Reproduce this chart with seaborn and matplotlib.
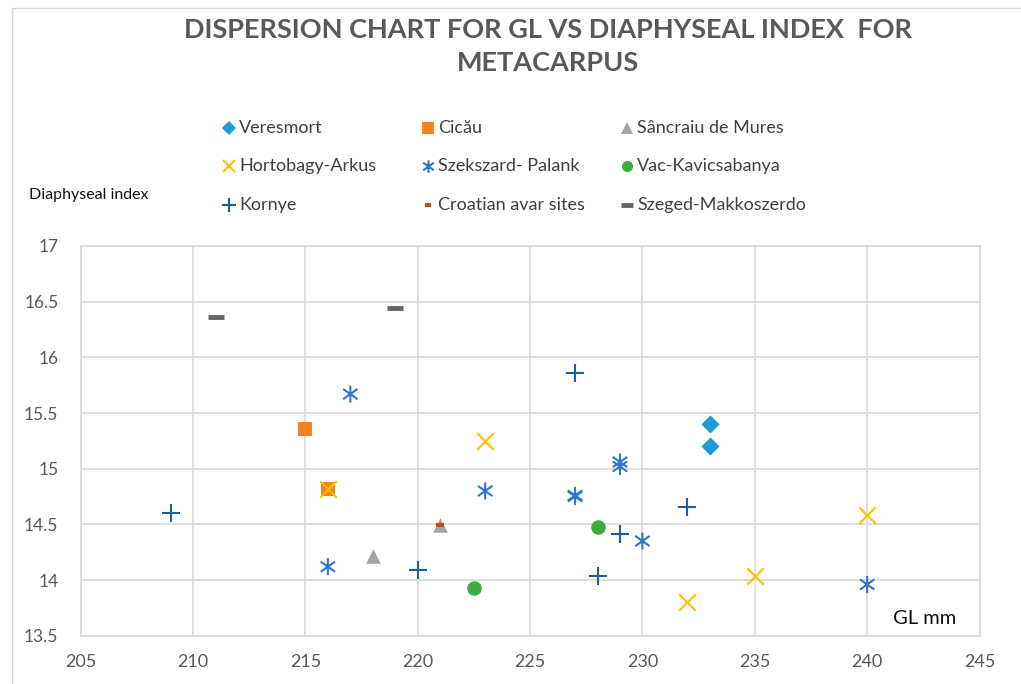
import matplotlib
matplotlib.use("Agg")
import matplotlib.pyplot as plt
import seaborn as sns
import numpy as np
import pandas as pd
from matplotlib.path import Path
from matplotlib.lines import Line2D

# ---- data ----
veresmort_x = [233, 233]
veresmort_y = [15.40, 15.20]
cicau_x = [215, 216]
cicau_y = [15.36, 14.82]
sancraiu_x = [221, 218]
sancraiu_y = [14.49, 14.22]
hortobagy_x = [223, 216, 240, 235, 232]
hortobagy_y = [15.25, 14.82, 14.58, 14.04, 13.80]
szekszard_x = [217, 229, 229, 223, 227, 227, 230, 216, 240]
szekszard_y = [15.67, 15.06, 15.02, 14.80, 14.76, 14.75, 14.35, 14.12, 13.96]
vac_x = [228, 222.5]
vac_y = [14.48, 13.93]
kornye_x = [227, 232, 209, 229, 220, 228]
kornye_y = [15.86, 14.66, 14.60, 14.41, 14.09, 14.04]
croatian_x = [221]
croatian_y = [14.49]
szeged_x = [211, 219]
szeged_y = [16.36, 16.44]

x_ticks = [205, 210, 215, 220, 225, 230, 235, 240, 245]
y_ticks = [13.5, 14, 14.5, 15, 15.5, 16, 16.5, 17]
y_tick_labels = ["13.5", "14", "14.5", "15", "15.5", "16", "16.5", "17"]

sns.set_theme(style="white")
plt.rcParams['font.family'] = ['Lato', 'DejaVu Sans']

asterisk = Path(
    [(0, -1), (0, 1), (-0.85, -0.6), (0.85, 0.6), (-0.85, 0.6), (0.85, -0.6)],
    [Path.MOVETO, Path.LINETO, Path.MOVETO, Path.LINETO, Path.MOVETO, Path.LINETO])

series = [
    ("Veresmort", veresmort_x, veresmort_y, "D", "#1B9BD7", 85, 0, True),
    ("Cicău", cicau_x, cicau_y, "s", "#F7801F", 110, 0, True),
    ("Sâncraiu de Mures", sancraiu_x, sancraiu_y, "^", "#A5A5A5", 110, 0, True),
    ("Hortobagy-Arkus", hortobagy_x, hortobagy_y, "x", "#FFC000", 140, 1.5, False),
    ("Szekszard- Palank", szekszard_x, szekszard_y, asterisk, "#2F74D0", 150, 1.5, False),
    ("Vac-Kavicsabanya", vac_x, vac_y, "o", "#3DAB3D", 110, 0, True),
    ("Kornye", kornye_x, kornye_y, "+", "#1F5F9A", 150, 1.5, False),
    ("Croatian avar sites", croatian_x, croatian_y, "_", "#C0500A", 35, 3.0, False),
    ("Szeged-Makkoszerdo", szeged_x, szeged_y, "_", "#666666", 130, 3.5, False),
]

fig = plt.figure(figsize=(10.21, 6.84), dpi=100)
ax = fig.add_axes([80.7 / 1021, 1 - 635.7 / 684, (979.5 - 80.7) / 1021, (635.7 - 246) / 684])

for name, xs, ys, mk, col, s, lw, filled in series:
    df = pd.DataFrame({"GL": xs, "DI": ys})
    if filled:
        sns.scatterplot(data=df, x="GL", y="DI", marker=mk, color=col, s=s,
                        edgecolor=col, linewidth=0, ax=ax, zorder=3)
    elif isinstance(mk, Path):
        sns.scatterplot(data=df, x="GL", y="DI", marker=mk, color=col, s=s,
                        edgecolor=col, facecolor="none", linewidth=lw, ax=ax, zorder=3)
    else:
        sns.scatterplot(data=df, x="GL", y="DI", marker=mk, color=col, s=s,
                        linewidth=lw, ax=ax, zorder=3)

ax.set_xlim(205, 245)
ax.set_ylim(13.5, 17)
ax.set_xticks(x_ticks)
ax.set_yticks(y_ticks)
ax.set_yticklabels(y_tick_labels)
ax.grid(True, color="#D9D9D9", linewidth=1.2)
ax.set_axisbelow(True)
for sp in ax.spines.values():
    sp.set_color("#D9D9D9")
    sp.set_linewidth(1.2)
ax.tick_params(axis="x", labelsize=13, colors="#595959", pad=13, length=0)
ax.tick_params(axis="y", labelsize=12.5, colors="#595959", pad=16, length=0)
ax.set_xlabel("")
ax.set_ylabel("")

fig.text(925 / 1021, 1 - 618 / 684, "GL mm", fontsize=14.5, color="#111111",
         ha="center", va="center")
fig.text(29 / 1021, 1 - 195 / 684, "Diaphyseal index", fontsize=11.5,
         color="#111111", ha="left", va="center")

# title
fig.text(548 / 1021, 1 - 30 / 684, "DISPERSION CHART FOR GL VS DIAPHYSEAL INDEX  FOR",
         fontsize=19.5, fontweight="bold", color="#595959", ha="center", va="center")
fig.text(548 / 1021, 1 - 63 / 684, "METACARPUS",
         fontsize=19.5, fontweight="bold", color="#595959", ha="center", va="center")

# legend (manual, 3 columns)
col_x = [229, 428, 627]
row_y = [128, 166, 205]
leg_sizes = {"D": 7, "s": 8, "^": 8, "x": 9, "o": 8, "+": 10, "_": 8}
for i, (name, xs, ys, mk, col, s, lw, filled) in enumerate(series):
    r, c = divmod(i, 3)
    mx = col_x[c] / 1021
    my = 1 - row_y[r] / 684
    if isinstance(mk, Path):
        ms = 9
    else:
        ms = leg_sizes[mk]
    if name.startswith("Croatian"):
        ms = 5
    mew = lw if lw > 0 else 1
    fig.add_artist(Line2D([mx], [my], marker=mk, markersize=ms, color=col,
                          markeredgecolor=col, markerfacecolor=col,
                          markeredgewidth=mew if not filled else 0,
                          linestyle="none", transform=fig.transFigure))
    fig.text(mx + 10 / 1021, my, name, fontsize=13, color="#404040",
             ha="left", va="center")

# outer border lines
fig.add_artist(Line2D([12 / 1021, 12 / 1021], [0, 1 - 8 / 684], color="#D9D9D9",
                      linewidth=1, transform=fig.transFigure))
fig.add_artist(Line2D([12 / 1021, 1], [1 - 8 / 684, 1 - 8 / 684], color="#D9D9D9",
                      linewidth=1, transform=fig.transFigure))

fig.savefig("out.png", dpi=100)
